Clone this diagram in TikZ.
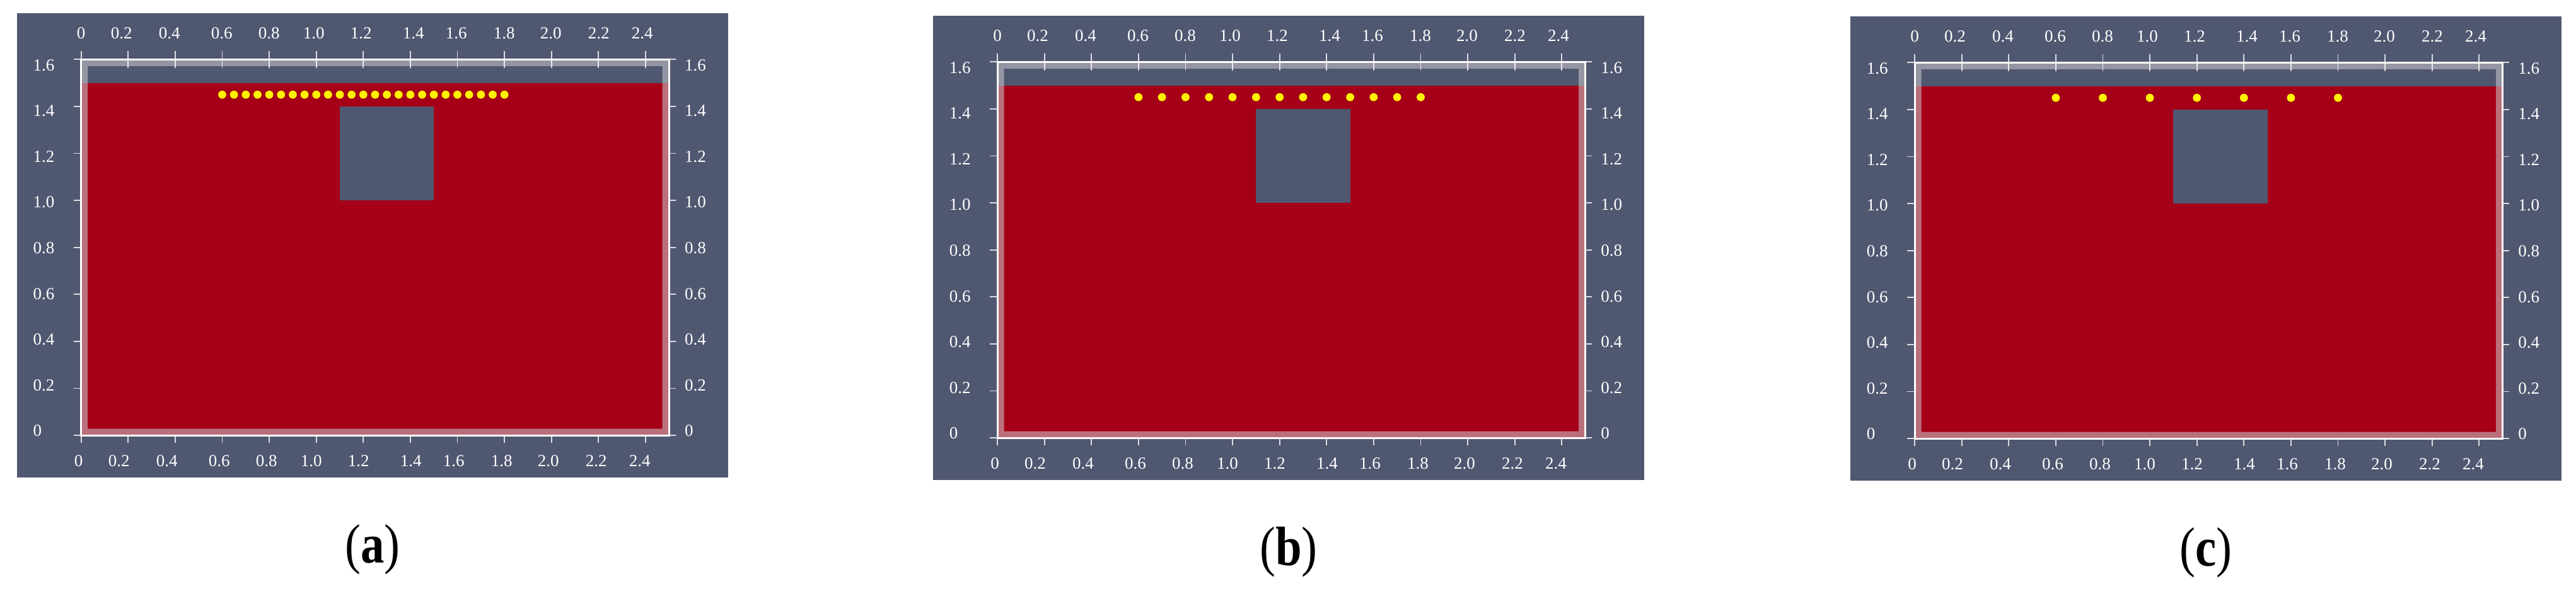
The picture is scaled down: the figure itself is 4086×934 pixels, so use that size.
\documentclass[tikz,border=0pt]{standalone}
\usepackage{fontspec}
\usepackage{graphicx}
\setmainfont{Liberation Serif}
\definecolor{bgc}{RGB}{80,87,112}
\definecolor{redc}{RGB}{165,0,24}
\definecolor{wallc}{RGB}{205,205,205}
\tikzset{
  panelbg/.style={fill=bgc},
  fluid/.style={fill=redc},
  obstacle/.style={fill=bgc},
  wall/.style={fill=wallc,fill opacity=0.55,even odd rule},
  framebox/.style={draw=white,line width=0.75pt},
  tickline/.style={draw=white,draw opacity=0.8,line width=0.45pt},
  ticklab/.style={text=white,inner sep=0pt,font=\fontsize{6.75}{8}\selectfont},
  particle/.style={fill=yellow},
  caplab/.style={inner sep=0pt,anchor=base,font=\fontsize{22}{26}\selectfont}
}
\begin{document}
\begin{tikzpicture}[x=0.25pt,y=-0.25pt]
\useasboundingbox (0,0) rectangle (4086,934);
\fill[white] (0,0) rectangle (4086,934);
\foreach \bx/\by/\st/\nd/\nm in {26.7/21/0.05/24/a, 1480/25/0.1/12/b, 2935/26/0.2/6/c}{
  \begin{scope}[shift={(\bx,\by)}]
    \fill[panelbg] (0,0) rectangle (1128,737);
    \node[caplab] (cap\nm) at (564,872.6) {\scalebox{0.85}[1]{(\textbf{\nm})}};
    \begin{scope}[shift={(102,670.1)}]
      % fluid and obstacle
      \fill[fluid] (0,0) rectangle (932.5,-559.5);
      \fill[obstacle] (410.3,-373) rectangle (559.5,-522.2);
      % walls
      \fill[wall] (0,0) rectangle (932.5,-596.8) (10.5,-10.5) rectangle (922,-586.3);
      % ticks
      \foreach \k in {0,...,12}{
        \draw[tickline] ({\k*74.6},-609.8) -- ({\k*74.6},-582.8);
        \draw[tickline] ({\k*74.6},0) -- ({\k*74.6},12);
      }
      \foreach \k in {0,...,8}{
        \draw[tickline] (-12,{-\k*74.6}) -- (0,{-\k*74.6});
        \draw[tickline] (932.5,{-\k*74.6}) -- (943,{-\k*74.6});
      }
      \draw[framebox] (0,0) rectangle (932.5,-596.8);
      % x labels
      \foreach \xo/\lab [count=\i] in {0/0,64/0.2,140/0.4,223/0.6,298/0.8,369/1.0,444/1.2,527/1.4,595/1.6,671/1.8,745/2.0,821/2.2,890/2.4}{
        \node[ticklab] (xt\nm\i) at (\xo,-638.8) {\lab};
        \node[ticklab] (xb\nm\i) at ({\xo-4},41) {\lab};
      }
      % y labels
      \foreach \lab [count=\i from 0] in {0,0.2,0.4,0.6,0.8,1.0,1.2,1.4,1.6}{
        \node[ticklab,anchor=west] (yl\nm\i) at (-77,{-7-\i*72.6}) {\lab};
        \node[ticklab,anchor=west] (yr\nm\i) at (956.5,{-7-\i*72.6}) {\lab};
      }
      % particles
      \foreach \d in {0,...,\nd}{
        \fill[particle] ({(0.6+\d*\st)*373},-540.85) circle (6.4);
      }
    \end{scope}
  \end{scope}
}
\end{tikzpicture}
\end{document}
